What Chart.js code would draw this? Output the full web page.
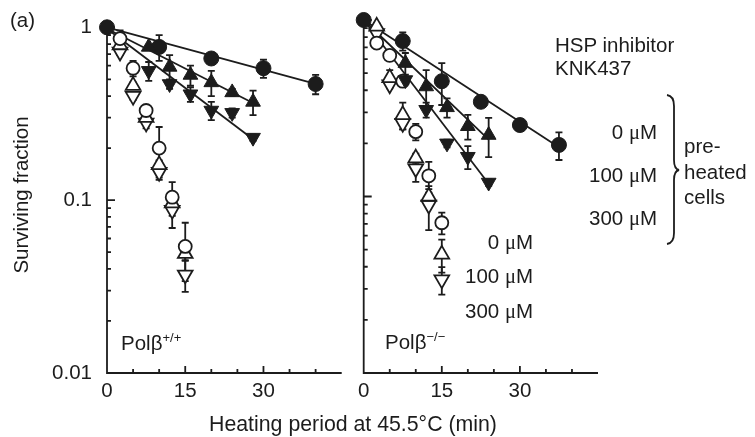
<!DOCTYPE html>
<html>
<head>
<meta charset="utf-8">
<script src="https://cdn.jsdelivr.net/npm/chart.js@4.4.1/dist/chart.umd.min.js"></script>
<style>
  body { margin: 0; background: #fff; }
  #wrap { position: relative; width: 755px; height: 437px; overflow: hidden;
          font-family: "Liberation Sans", Arial, sans-serif; color: #1c1c1c; }
  canvas { position: absolute; top: 0; }
  .t { position: absolute; font-size: 20.5px; line-height: 24px; white-space: nowrap; }
  .r { text-align: right; }
  .mu { font-family: "Liberation Serif", "Times New Roman", serif; }
  .sup { font-size: 13px; position: relative; top: -8px; }
</style>
</head>
<body>
<div id="wrap">
  <canvas id="left" width="352" height="437" style="left:0"></canvas>
  <canvas id="right" width="403" height="437" style="left:352px"></canvas>

  <div class="t" style="left:10px;top:8px">(a)</div>
  <div class="t" style="left:21px;top:195px;transform:translate(-50%,-50%) rotate(-90deg)">Surviving fraction</div>
  <div class="t" style="left:353px;top:412px;font-size:21.3px;transform:translateX(-50%)">Heating period at 45.5°C (min)</div>

  <div class="t" style="left:121px;top:331px">Polβ<span class="sup">+/+</span></div>
  <div class="t" style="left:385px;top:330px">Polβ<span class="sup">−/−</span></div>

  <div class="t r" style="right:222px;top:230px">0 <span class="mu">μ</span>M</div>
  <div class="t r" style="right:222px;top:264px">100 <span class="mu">μ</span>M</div>
  <div class="t r" style="right:222px;top:299px">300 <span class="mu">μ</span>M</div>

  <div class="t" style="left:555px;top:33px">HSP inhibitor</div>
  <div class="t" style="left:555px;top:56px">KNK437</div>
  <div class="t r" style="right:98px;top:120px">0 <span class="mu">μ</span>M</div>
  <div class="t r" style="right:98px;top:163px">100 <span class="mu">μ</span>M</div>
  <div class="t r" style="right:98px;top:206px">300 <span class="mu">μ</span>M</div>
  <div class="t" style="left:684px;top:134px">pre-</div>
  <div class="t" style="left:684px;top:160px">heated</div>
  <div class="t" style="left:684px;top:185px">cells</div>
  <svg style="position:absolute;left:0;top:0" width="755" height="437">
    <path d="M667 95 Q674 96 674 106 L674 160 Q674 169 679 170 Q674 171 674 180 L674 233 Q674 243 667 244"
          fill="none" stroke="#1c1c1c" stroke-width="1.8"/>
  </svg>
</div>

<script>
// axis ticks
const xMajor = [0, 15, 30];
const xMinor = [5, 10, 20, 25, 35, 40];
const yMajor = [0.01, 0.1, 1];
const yMinor = [0.02, 0.03, 0.04, 0.05, 0.06, 0.07, 0.08, 0.09,
                0.2, 0.3, 0.4, 0.5, 0.6, 0.7, 0.8, 0.9];

// heating times (min); the 0 min point of every series sits under the filled circle at 1
const openTimes = [2.5, 5, 7.5, 10, 12.5, 15];
const leftPreCircleTimes = [0, 10, 20, 30, 40];
const leftPreTriTimes = [8, 12, 16, 20, 24, 28];
const rightPreCircleTimes = [0, 7.5, 15, 22.5, 30, 37.5];
const rightPreTriTimes = [8, 12, 16, 20, 24];

// Pol beta +/+ : preheated cells (filled)
const leftPre0 = [1, 0.77, 0.66, 0.58, 0.47];
const leftPre0Err = [0, 0.13, 0.02, 0.07, 0.06];
const leftPre100 = [0.77, 0.59, 0.53, 0.48, 0.42, 0.37];
const leftPre100Err = [0.02, 0.1, 0.07, 0.08, 0.02, 0.06];
const leftPre300 = [0.56, 0.47, 0.41, 0.33, 0.32, 0.23];
const leftPre300Err = [0.07, 0.03, 0.04, 0.04, 0.02, 0.01];

// Pol beta +/+ : not preheated (open)
const leftOpen0 = [0.86, 0.58, 0.33, 0.20, 0.104, 0.054];
const leftOpen0Err = [0.1, 0.06, 0.02, 0.065, 0.023, 0.02];
const leftOpen100 = [0.79, 0.46, 0.30, 0.16, 0.096, 0.049];
const leftOpen100Err = [0.02, 0.02, 0.02, 0.01, 0.008, 0.004];
const leftOpen300 = [0.72, 0.40, 0.28, 0.145, 0.0875, 0.037];
const leftOpen300Err = [0.03, 0.02, 0.02, 0.014, 0.0185, 0.0075];

// Pol beta -/- : preheated cells (filled)
const rightPre0 = [1, 0.76, 0.45, 0.344, 0.254, 0.196];
const rightPre0Err = [0, 0.09, 0.12, 0.02, 0.01, 0.035];
const rightPre100 = [0.57, 0.42, 0.32, 0.25, 0.223];
const rightPre100Err = [0.08, 0.1, 0.04, 0.04, 0.056];
const rightPre300 = [0.457, 0.31, 0.20, 0.168, 0.12];
const rightPre300Err = [0.02, 0.03, 0.01, 0.025, 0.005];

// Pol beta -/- : not preheated (open)
const rightOpen0 = [0.74, 0.63, 0.45, 0.233, 0.131, 0.071];
const rightOpen0Err = [0.02, 0.02, 0.02, 0.025, 0.026, 0.01];
const rightOpen100 = [0.92, 0.47, 0.29, 0.165, 0.10, 0.047];
const rightOpen100Err = [0.04, 0.05, 0.05, 0.01, 0.01, 0.01];
const rightOpen300 = [0.84, 0.43, 0.26, 0.144, 0.0895, 0.0338];
const rightOpen300Err = [0.02, 0.02, 0.02, 0.023, 0.025, 0.006];

// fitted lines (start, end)
const leftFit0Times = [0, 40], leftFit0 = [1, 0.47];
const leftFit100Times = [0, 28], leftFit100 = [0.98, 0.365];
const leftFit300Times = [0, 28], leftFit300 = [0.98, 0.225];
const rightFit0Times = [0, 37.5], rightFit0 = [1, 0.19];
const rightFit100Times = [0, 24], rightFit100 = [1, 0.21];
const rightFit300Times = [0, 24], rightFit300 = [1, 0.118];

const INK = '#1c1c1c';
Chart.defaults.font.family = '"Liberation Sans", Arial, sans-serif';
Chart.defaults.font.size = 20.5;
Chart.defaults.color = INK;

const zip = (xs, ys) => xs.map((x, i) => ({ x: x, y: ys[i] }));

function fitLine(times, vals) {
  return { data: zip(times, vals), showLine: true, pointRadius: 0, borderColor: INK,
           borderWidth: 1.8, order: 10, clip: false };
}
function filled(times, vals, errs, style, rot) {
  return { data: zip(times, vals), errs: errs, pointStyle: style, pointRotation: rot || 0,
           pointRadius: style === 'circle' ? 7.5 : 8.5, backgroundColor: INK, borderColor: INK,
           borderWidth: 1, order: 1, clip: false };
}
function open(times, vals, errs, style, rot) {
  return { data: zip(times, vals), errs: errs, pointStyle: style, pointRotation: rot || 0,
           pointRadius: style === 'circle' ? 6.5 : 8.5, backgroundColor: '#fff', borderColor: INK,
           borderWidth: 1.8, order: 5, clip: false };
}

const errorBars = {
  id: 'errorBars',
  beforeDatasetsDraw(chart) {
    const { ctx, scales: { x, y } } = chart;
    ctx.save();
    ctx.strokeStyle = INK;
    ctx.lineWidth = 1.8;
    chart.data.datasets.forEach(ds => {
      if (!ds.errs) return;
      ds.data.forEach((p, i) => {
        const e = ds.errs[i];
        if (!e) return;
        const px = x.getPixelForValue(p.x);
        const hi = y.getPixelForValue(p.y + e);
        const lo = y.getPixelForValue(Math.max(p.y - e, 0.002));
        ctx.beginPath();
        ctx.moveTo(px, hi); ctx.lineTo(px, lo);
        ctx.moveTo(px - 3.5, hi); ctx.lineTo(px + 3.5, hi);
        ctx.moveTo(px - 3.5, lo); ctx.lineTo(px + 3.5, lo);
        ctx.stroke();
      });
    });
    ctx.restore();
  }
};

// axis lines are drawn before the marks so the circle at (0, 1) sits on top
const axesLines = {
  id: 'axesLines',
  beforeDatasetsDraw(chart) {
    const { ctx, scales: { x, y } } = chart;
    const left = x.getPixelForValue(0);
    const bottom = y.getPixelForValue(0.01);
    ctx.save();
    ctx.strokeStyle = INK;
    ctx.lineWidth = 1.8;
    ctx.beginPath();
    ctx.moveTo(left, y.getPixelForValue(1) - 1);
    ctx.lineTo(left, bottom);
    ctx.lineTo(x.getPixelForValue(45), bottom);
    yMajor.forEach(v => {
      const py = y.getPixelForValue(v);
      ctx.moveTo(left, py); ctx.lineTo(left + 8, py);
    });
    yMinor.forEach(v => {
      const py = y.getPixelForValue(v);
      ctx.moveTo(left, py); ctx.lineTo(left + 4, py);
    });
    xMajor.forEach(v => {
      const px = x.getPixelForValue(v);
      ctx.moveTo(px, bottom); ctx.lineTo(px, bottom - 7);
    });
    xMinor.forEach(v => {
      const px = x.getPixelForValue(v);
      ctx.moveTo(px, bottom); ctx.lineTo(px, bottom - 4);
    });
    ctx.stroke();
    ctx.restore();
  }
};

function makeChart(id, datasets, showY, padding) {
  return new Chart(document.getElementById(id), {
    type: 'scatter',
    data: { datasets: datasets },
    options: {
      responsive: false,
      animation: false,
      devicePixelRatio: 1,
      layout: { padding: padding },
      plugins: { legend: { display: false }, tooltip: { enabled: false } },
      scales: {
        x: {
          type: 'linear', min: 0, max: 45,
          afterBuildTicks: s => { s.ticks = xMajor.map(v => ({ value: v })); },
          afterFit: s => { s.height = 64; },
          ticks: { padding: 6, callback: v => String(v), maxRotation: 0 },
          grid: { display: false, drawTicks: false },
          border: { display: false }
        },
        y: {
          type: 'logarithmic', min: 0.01, max: 1, display: showY,
          afterBuildTicks: s => { s.ticks = yMajor.map(v => ({ value: v })); },
          afterFit: s => { s.width = showY ? 107 : 0; },
          ticks: { padding: 15, callback: v => String(v) },
          grid: { display: false, drawTicks: false },
          border: { display: false }
        }
      }
    },
    plugins: [axesLines, errorBars]
  });
}

makeChart('left', [
  fitLine(leftFit0Times, leftFit0),
  fitLine(leftFit100Times, leftFit100),
  fitLine(leftFit300Times, leftFit300),
  open(openTimes, leftOpen0, leftOpen0Err, 'circle'),
  open(openTimes, leftOpen100, leftOpen100Err, 'triangle'),
  open(openTimes, leftOpen300, leftOpen300Err, 'triangle', 180),
  filled(leftPreTriTimes, leftPre300, leftPre300Err, 'triangle', 180),
  filled(leftPreTriTimes, leftPre100, leftPre100Err, 'triangle'),
  filled(leftPreCircleTimes, leftPre0, leftPre0Err, 'circle')
], true, { left: 0, right: 9, top: 20, bottom: 0 });

makeChart('right', [
  fitLine(rightFit0Times, rightFit0),
  fitLine(rightFit100Times, rightFit100),
  fitLine(rightFit300Times, rightFit300),
  open(openTimes, rightOpen0, rightOpen0Err, 'circle'),
  open(openTimes, rightOpen100, rightOpen100Err, 'triangle'),
  open(openTimes, rightOpen300, rightOpen300Err, 'triangle', 180),
  filled(rightPreTriTimes, rightPre300, rightPre300Err, 'triangle', 180),
  filled(rightPreTriTimes, rightPre100, rightPre100Err, 'triangle'),
  filled(rightPreCircleTimes, rightPre0, rightPre0Err, 'circle')
], false, { left: 9.5, right: 157, top: 20, bottom: 0 });
</script>
</body>
</html>
